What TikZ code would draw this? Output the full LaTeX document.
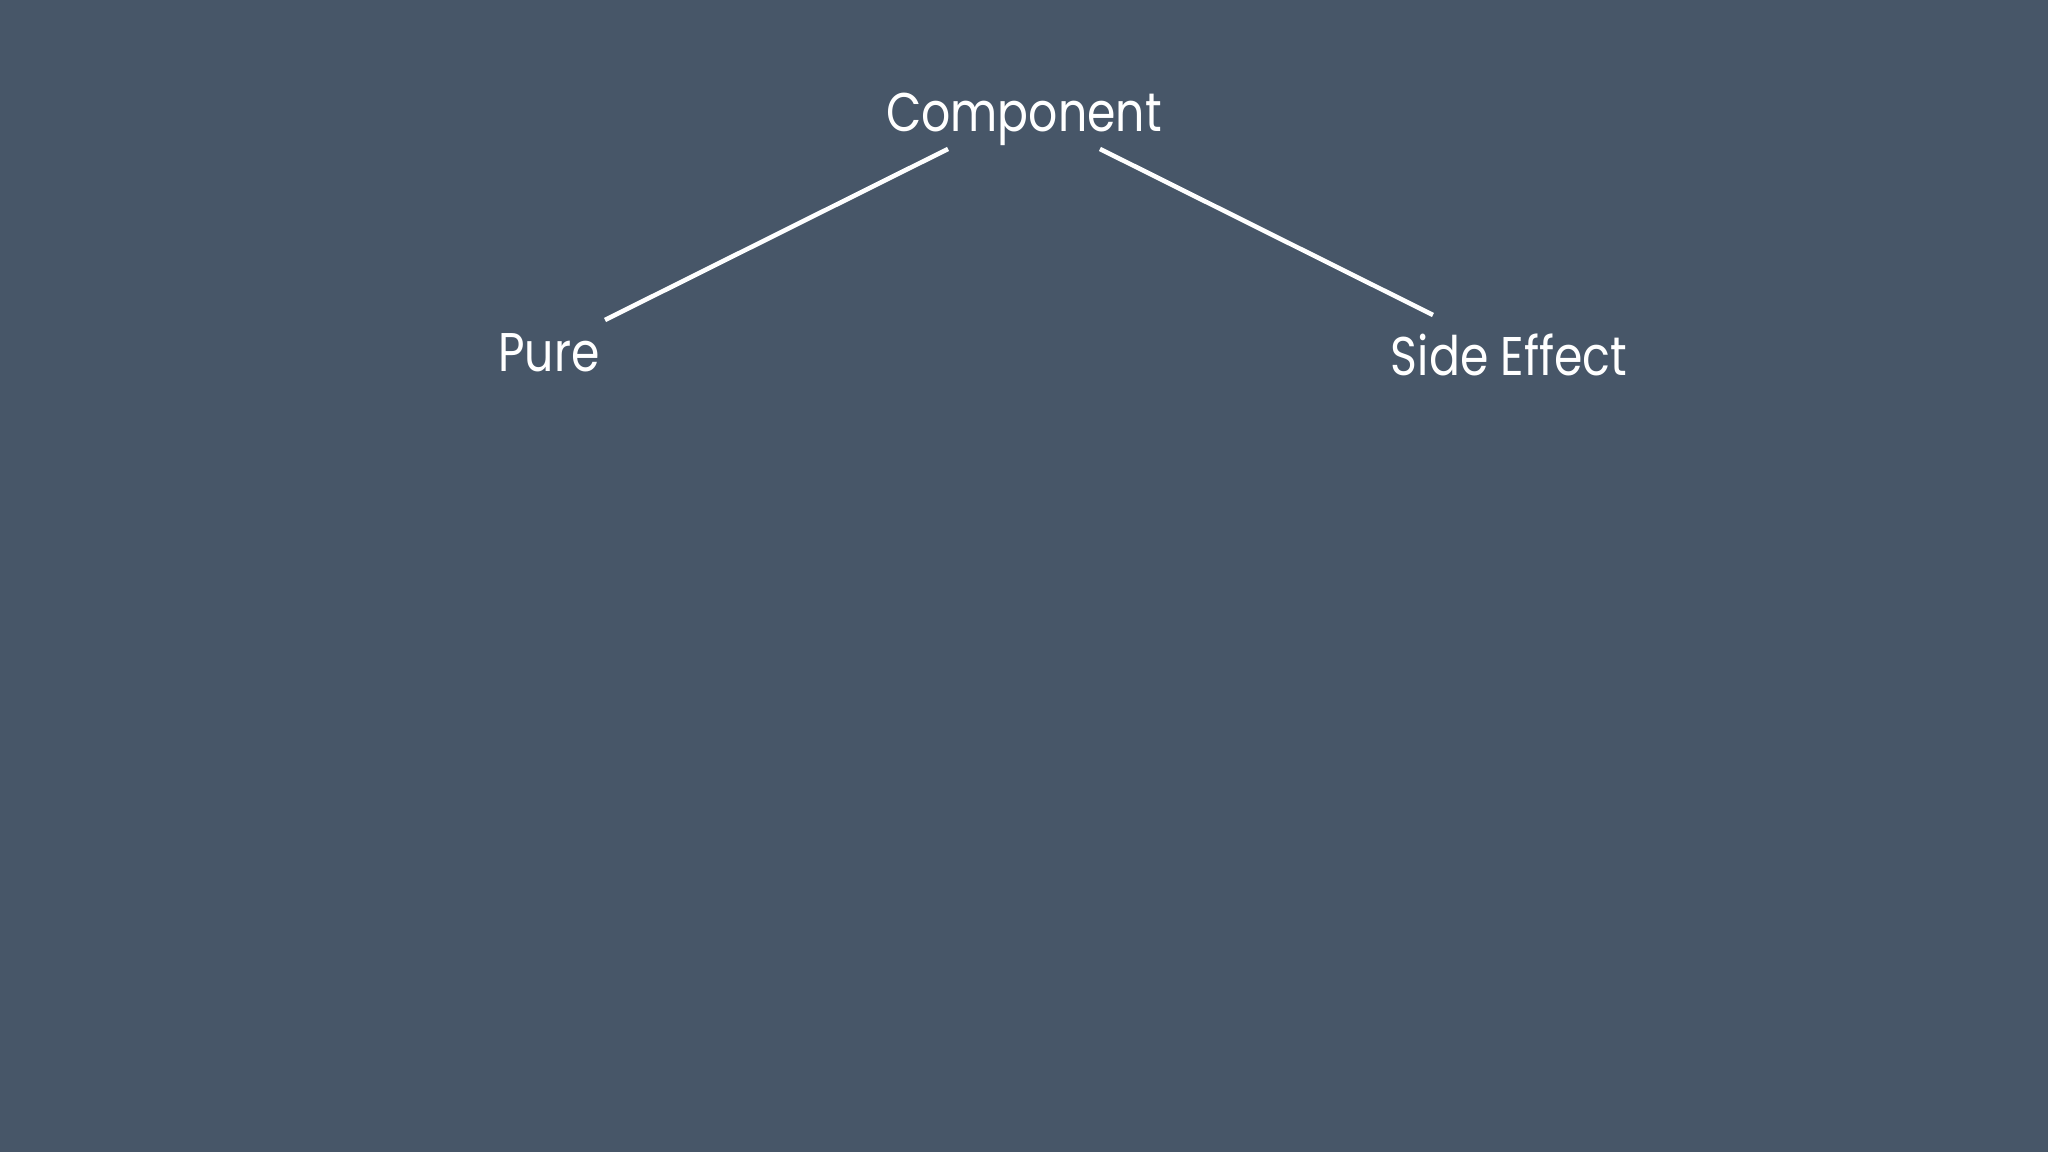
\documentclass[tikz,border=0pt]{standalone}
\usepackage{fontspec}
\setmainfont{Poppins}[FakeStretch=0.84]
\definecolor{bg}{RGB}{71,86,104}
\begin{document}
\begin{tikzpicture}[x=1cm,y=1cm,
  lbl/.style={text=white,font=\fontsize{15.5}{18}\selectfont,anchor=base,inner sep=0pt},
  conn/.style={draw=white,line width=1.3pt}]
\fill[bg] (0,0) rectangle (20.48,11.52);
\useasboundingbox (0,0) rectangle (20.48,11.52);
\node[lbl] (comp) at (10.24,10.20) {Component};
\node[lbl] (pure) at (5.49,7.80) {Pure};
\node[lbl] (side) at (15.09,7.76) {Side Effect};
\coordinate (compL) at (9.48,10.03);
\coordinate (compR) at (11.00,10.03);
\coordinate (pureT) at (6.05,8.32);
\coordinate (sideT) at (14.33,8.37);
\draw[conn] (compL) -- (pureT);
\draw[conn] (compR) -- (sideT);
\end{tikzpicture}
\end{document}
